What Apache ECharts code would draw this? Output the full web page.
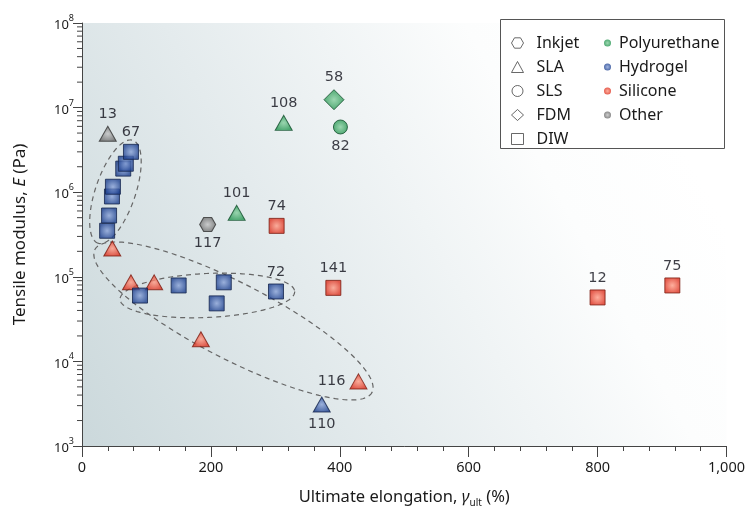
<!DOCTYPE html>
<html><head><meta charset="utf-8">
<script src="https://cdn.jsdelivr.net/npm/echarts@6/dist/echarts.min.js"></script>
<style>html,body{margin:0;padding:0;background:#fff}#c{width:748px;height:513px}</style>
</head><body><div id="c"></div>
<script>
// ---- data ----
const xValues   = [40, 76, 68, 64, 48, 46.5, 42, 39, 47, 76, 112, 90, 150, 220, 209, 301, 195, 240, 302, 313, 391, 401, 390, 429, 372, 184.5, 800, 916];
const yValues   = [4.9e6, 3.0e6, 2.17e6, 1.9e6, 1.16e6, 8.9e5, 5.3e5, 3.5e5, 2.16e5, 8.6e4, 8.6e4, 6.0e4, 7.9e4, 8.6e4, 4.85e4, 6.7e4, 4.15e5, 5.7e5, 4.0e5, 6.6e6, 1.24e7, 5.9e6, 7.4e4, 5.8e3, 3.1e3, 1.83e4, 5.7e4, 7.9e4];
const methods   = ['SLA','DIW','DIW','DIW','DIW','DIW','DIW','DIW','SLA','SLA','SLA','DIW','DIW','DIW','DIW','DIW','Inkjet','SLA','DIW','SLA','FDM','SLS','DIW','SLA','SLA','SLA','DIW','DIW'];
const materials = ['Other','Hydrogel','Hydrogel','Hydrogel','Hydrogel','Hydrogel','Hydrogel','Hydrogel','Silicone','Silicone','Silicone','Hydrogel','Hydrogel','Hydrogel','Hydrogel','Hydrogel','Other','Polyurethane','Silicone','Polyurethane','Polyurethane','Polyurethane','Silicone','Silicone','Hydrogel','Silicone','Silicone','Silicone'];
const pointLabels = ['13','67','','','','','','','','','','','','','','72','117','101','74','108','58','82','141','116','110','','12','75'];
const labelSides  = ['top','top','','','','','','','','','','','','','','top','bottom','top','top','top','top','bottom','top','left','bottom','','top','top'];
const methodNames   = ['Inkjet','SLA','SLS','FDM','DIW'];
const materialNames = ['Polyurethane','Hydrogel','Silicone','Other'];
const xTicks = [0, 200, 400, 600, 800, 1000];
const yDecades = [3, 4, 5, 6, 7, 8];
// dashed grouping ellipses: major-axis end points in data units
const ellipseEnds = [[79, 4.1e6, 24.8, 2.5e5], [59, 5.4e4, 330, 6.7e4], [20, 2.1e5, 450, 4.3e3]];
const ellipseHalfWidths = [20, 22, 38];

// ---- styles ----
const hexPath = 'path://M0,5L2.9,0L8.7,0L11.6,5L8.7,10L2.9,10Z';
const shapeOf = {Inkjet: hexPath, SLA: 'triangle', SLS: 'circle', FDM: 'diamond', DIW: 'rect'};
const sizeOf  = {Inkjet: [16, 14], SLA: [17, 15], SLS: [14, 14], FDM: [20, 20], DIW: [15, 15]};
const palette = {
  Polyurethane: ['#86cf9f', '#23944f', '#124d2c'],
  Hydrogel:     ['#8aa3d8', '#1f4291', '#14244c'],
  Silicone:     ['#ff9c86', '#de3220', '#7a1c10'],
  Other:        ['#c4c4c4', '#6a6a6a', '#333333']
};
function grad(m) {
  return {type: 'radial', x: 0.5, y: 0.5, r: 0.6,
    colorStops: [{offset: 0, color: palette[m][0]}, {offset: 0.85, color: palette[m][1]}, {offset: 1, color: palette[m][1]}]};
}

const minorY = [];
for (let d = 3; d < 8; d++) for (let k = 2; k <= 9; k++) minorY.push([0, k * Math.pow(10, d)]);

const scatterSeries = methodNames.map(function (mName) {
  const data = [];
  xValues.forEach(function (x, i) {
    if (methods[i] !== mName) return;
    const mat = materials[i];
    const item = {value: [x, yValues[i]], itemStyle: {color: grad(mat), borderColor: palette[mat][2], borderWidth: 1}};
    if (pointLabels[i]) item.label = {show: true, formatter: pointLabels[i], position: labelSides[i], distance: 4};
    data.push(item);
  });
  return {
    name: mName, type: 'scatter', symbol: shapeOf[mName], symbolSize: sizeOf[mName],
    data: data.reverse(), z: 5,
    label: {fontFamily: 'DejaVu Sans', fontSize: 14.5, color: '#0e0e18'},
    emphasis: {disabled: true}
  };
});
const materialSeries = materialNames.map(function (n) {
  return {name: n, type: 'scatter', data: [], itemStyle: {color: grad(n)}};
});

const ellipseSeries = {
  type: 'custom', silent: true, z: 3,
  data: ellipseEnds.map(function (e, i) { return e.concat([ellipseHalfWidths[i]]); }),
  encode: {x: [0, 2], y: [1, 3]},
  renderItem: function (params, api) {
    const p1 = api.coord([api.value(0), api.value(1)]);
    const p2 = api.coord([api.value(2), api.value(3)]);
    const w = api.value(4);
    const cx = (p1[0] + p2[0]) / 2, cy = (p1[1] + p2[1]) / 2;
    const a = Math.hypot(p2[0] - p1[0], p2[1] - p1[1]) / 2;
    const th = Math.atan2(p2[1] - p1[1], p2[0] - p1[0]);
    const pts = [];
    for (let j = 0; j < 120; j++) {
      const t = j / 120 * Math.PI * 2;
      const u = a * Math.cos(t), v = w * Math.sin(t);
      pts.push([cx + u * Math.cos(th) - v * Math.sin(th), cy + u * Math.sin(th) + v * Math.cos(th)]);
    }
    return {type: 'polygon', shape: {points: pts}, style: {fill: 'none', stroke: '#666', lineWidth: 1.2, lineDash: [5, 4]}};
  }
};
const minorTickSeries = {
  type: 'custom', silent: true, z: 4, clip: false,
  data: minorY, encode: {x: 0, y: 1},
  renderItem: function (params, api) {
    const p = api.coord([api.value(0), api.value(1)]);
    return {type: 'line', shape: {x1: p[0] - 5, y1: p[1], x2: p[0], y2: p[1]}, style: {stroke: '#444', lineWidth: 1}};
  }
};

const chart = echarts.init(document.getElementById('c'), null, {renderer: 'canvas'});
chart.setOption({
  animation: false,
  backgroundColor: '#fff',
  grid: {left: 82, top: 23, width: 645, height: 424, show: true, borderWidth: 0,
    backgroundColor: {type: 'linear', x: 0, y: 0.95, x2: 0.9, y2: 0.2,
      colorStops: [{offset: 0, color: '#ccd9dc'}, {offset: 0.4, color: '#e4ebed'}, {offset: 0.8, color: '#fcfdfd'}, {offset: 1, color: '#ffffff'}]}},
  xAxis: {
    type: 'value', min: xTicks[0], max: xTicks[xTicks.length - 1], interval: 200,
    axisLine: {show: true, lineStyle: {color: '#444', width: 1}},
    axisTick: {show: true, length: 11, lineStyle: {color: '#444'}},
    minorTick: {show: true, splitNumber: 5, length: 5, lineStyle: {color: '#444'}},
    splitLine: {show: false},
    axisLabel: {fontFamily: 'Noto Sans', fontSize: 14.5, color: '#1a1a1a', margin: 14,
      formatter: function (v) { return v.toLocaleString('en-US'); }},
    name: '{n|Ultimate elongation, }{i|γ}{sub|ult}{n| (%)}', nameLocation: 'middle', nameGap: 40,
    nameTextStyle: {rich: {
      n: {fontFamily: 'Noto Sans', fontSize: 16.5, color: '#1a1a1a', lineHeight: 22, verticalAlign: 'middle'},
      i: {fontFamily: 'Noto Sans', fontStyle: 'italic', fontSize: 16.5, color: '#1a1a1a', lineHeight: 22, verticalAlign: 'middle'},
      sub: {fontFamily: 'Noto Sans', fontSize: 10, color: '#1a1a1a', lineHeight: 22, verticalAlign: 'bottom'}
    }}
  },
  yAxis: {
    type: 'log', logBase: 10, min: Math.pow(10, yDecades[0]), max: Math.pow(10, yDecades[yDecades.length - 1]),
    axisLine: {show: true, lineStyle: {color: '#444', width: 1}},
    axisTick: {show: true, length: 9, lineStyle: {color: '#444'}},
    splitLine: {show: false},
    axisLabel: {margin: 8,
      formatter: function (v) { return '{b|10}{s|' + Math.round(Math.log10(v)) + '}'; },
      rich: {
        b: {fontFamily: 'Noto Sans', fontSize: 13, color: '#1a1a1a', lineHeight: 18, verticalAlign: 'bottom'},
        s: {fontFamily: 'Noto Sans', fontSize: 9, color: '#1a1a1a', lineHeight: 18, verticalAlign: 'top'}
      }},
    name: '{n|Tensile modulus, }{i|E}{n| (Pa)}', nameLocation: 'middle', nameGap: 53,
    nameTextStyle: {rich: {
      n: {fontFamily: 'Noto Sans', fontSize: 17, color: '#1a1a1a'},
      i: {fontFamily: 'Noto Sans', fontStyle: 'italic', fontSize: 17, color: '#1a1a1a'}
    }}
  },
  legend: [
    {orient: 'vertical', left: 506, top: 29, itemWidth: 12, itemHeight: 11, itemGap: 6, selectedMode: false,
      textStyle: {fontFamily: 'Noto Sans', fontSize: 16, color: '#1a1a1a', lineHeight: 18, padding: [0, 0, 0, 8]},
      data: methodNames.map(function (n) {
        return {name: n, icon: shapeOf[n], itemStyle: {color: '#ffffff', borderColor: '#444', borderWidth: 1}};
      })},
    {orient: 'vertical', left: 599, top: 29, itemWidth: 7, itemHeight: 7, itemGap: 6, selectedMode: false,
      textStyle: {fontFamily: 'Noto Sans', fontSize: 16, color: '#1a1a1a', lineHeight: 18, padding: [0, 0, 0, 3]},
      data: materialNames.map(function (n) { return {name: n, icon: 'circle'}; })}
  ],
  graphic: [{type: 'rect', left: 500, top: 19, shape: {width: 224, height: 129},
    style: {fill: '#fff', stroke: '#555', lineWidth: 1}, z: 0, silent: true}],
  series: [ellipseSeries, minorTickSeries].concat(scatterSeries).concat(materialSeries)
});
</script></body></html>
